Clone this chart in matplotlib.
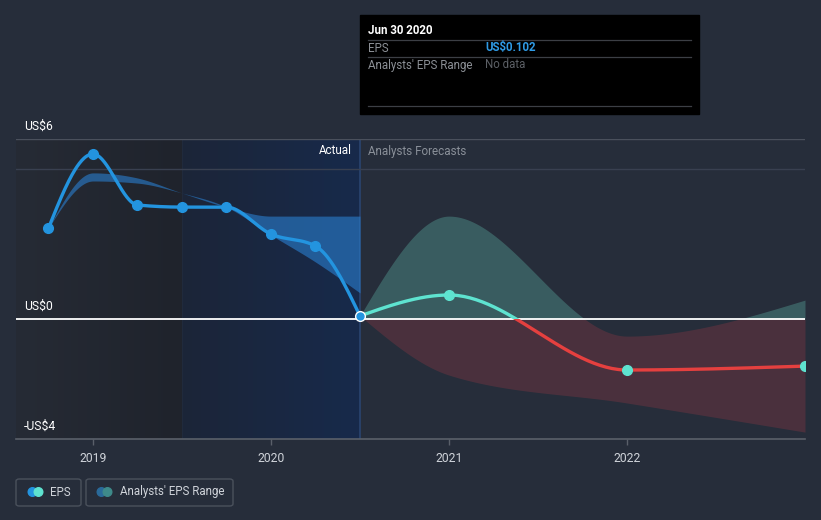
import numpy as np
import matplotlib
matplotlib.use('Agg')
from matplotlib import pyplot as plt
from matplotlib.patches import Rectangle, FancyBboxPatch, Circle
from matplotlib.lines import Line2D

plt.rcParams.update({'font.family': ['Roboto', 'DejaVu Sans'], 'font.size': 9})

# ---- data ----
eps_x = [2018.75, 2019.0, 2019.25, 2019.5, 2019.75, 2020.0, 2020.25, 2020.5]
eps_y = [3.03, 5.5, 3.8, 3.73, 3.73, 2.83, 2.43, 0.102]

past_band_x = [2018.75, 2019.0, 2019.25, 2019.5, 2019.75, 2020.0, 2020.25, 2020.5]
past_band_hi = [3.03, 4.87, 4.7, 4.2, 3.73, 3.43, 3.43, 3.43]
past_band_lo = [3.03, 4.6, 4.53, 4.2, 3.73, 2.8, 1.9, 0.87]

fc_x = [2020.5, 2021.0, 2022.0, 2023.0]
fc_y = [0.102, 0.8, -1.7, -1.57]
fc_hi = [0.102, 3.43, -0.57, 0.63]
fc_lo = [0.102, -1.87, -2.8, -3.77]

year_ticks = [2019, 2020, 2021, 2022]
y_labels = {6: 'US$6', 0: 'US$0', -4: '-US$4'}

BG = '#262d3a'
BLUE = '#2394df'
CYAN = '#5ee3d0'
RED = '#e5403f'


def monotone(xs, ys, n=60):
    # d3 curveMonotoneX style interpolation, for drawing only
    xs = np.asarray(xs, float)
    ys = np.asarray(ys, float)
    h = np.diff(xs)
    s = np.diff(ys) / h
    m = np.zeros(len(xs))
    for k in range(1, len(xs) - 1):
        p = (s[k - 1] * h[k] + s[k] * h[k - 1]) / (h[k - 1] + h[k])
        m[k] = (np.sign(s[k - 1]) + np.sign(s[k])) * min(abs(s[k - 1]), abs(s[k]), 0.5 * abs(p))
    m[0] = (3 * s[0] - m[1]) / 2 if len(xs) > 2 else s[0]
    m[-1] = (3 * s[-1] - m[-2]) / 2 if len(xs) > 2 else s[-1]
    outx, outy = [], []
    for k in range(len(xs) - 1):
        t = np.linspace(0, 1, n)
        h00 = 2 * t**3 - 3 * t**2 + 1
        h10 = t**3 - 2 * t**2 + t
        h01 = -2 * t**3 + 3 * t**2
        h11 = t**3 - t**2
        yy = h00 * ys[k] + h10 * h[k] * m[k] + h01 * ys[k + 1] + h11 * h[k] * m[k + 1]
        outx.extend(xs[k] + t * h[k])
        outy.extend(yy)
    return np.array(outx), np.array(outy)


W, H = 821, 520
fig = plt.figure(figsize=(W / 100, H / 100), dpi=100, facecolor=BG)
x0, x1, ytop, ybot = 16, 805, 139, 439
ax = fig.add_axes([x0 / W, (H - ybot) / H, (x1 - x0) / W, (ybot - ytop) / H])
ax.set_facecolor(BG)
xmin, xmax = 2019 - 77 / 178, 2023.0
ax.set_xlim(xmin, xmax)
ax.set_ylim(-4, 6)

# background shading for history
grad = np.linspace(0, 1, 256).reshape(1, -1)
c_a = np.array([0x26, 0x2b, 0x35]) / 255
c_b = np.array([0x1f, 0x23, 0x2c]) / 255
img = c_a + (c_b - c_a) * grad[..., None]
ax.imshow(img, extent=[xmin, 2019.5, -4, 6], aspect='auto', zorder=0)
c_a = np.array([0x1c, 0x25, 0x38]) / 255
c_b = np.array([0x17, 0x2a, 0x4b]) / 255
img = c_a + (c_b - c_a) * grad[..., None]
ax.imshow(img, extent=[2019.5, 2020.5, -4, 6], aspect='auto', zorder=0)
ax.axvline(2019.5, color='#202a3c', lw=0.8, zorder=1)
ax.axvline(2020.5, color='#2a4470', lw=1.2, zorder=1)

# gridlines
ax.axhline(6, color='#4a505c', lw=1, zorder=1)
ax.axhline(5, color='#394050', lw=1, zorder=1)

# past range band
bx, bhi = monotone(past_band_x, past_band_hi)
_, blo = monotone(past_band_x, past_band_lo)
ax.fill_between(bx, blo, bhi, color='#2a7fd0', alpha=0.6, lw=0, zorder=2)

# forecast band
fx, fhi = monotone(fc_x, fc_hi)
_, flo = monotone(fc_x, fc_lo)
ax.fill_between(fx, np.maximum(flo, 0), np.maximum(fhi, 0), color='#4a8480', alpha=0.55, lw=0, zorder=2)
ax.fill_between(fx, np.minimum(flo, 0), np.minimum(fhi, 0), color='#683440', alpha=0.55, lw=0, zorder=2)

# zero line
ax.axhline(0, color='white', lw=1.3, zorder=3)

# EPS history line
ex, ey = monotone(eps_x, eps_y)
ax.plot(ex, ey, color=BLUE, lw=2.4, zorder=4, solid_capstyle='round')
ax.plot(eps_x[:-1], eps_y[:-1], 'o', color=BLUE, ms=7, zorder=5)

# forecast line, cyan above zero, red below
gx, gy = monotone(fc_x, fc_y)
l1, = ax.plot(gx, gy, color=CYAN, lw=2.4, zorder=4)
l1.set_clip_path(Rectangle((xmin, 0), xmax - xmin, 10, transform=ax.transData))
l2, = ax.plot(gx, gy, color=RED, lw=2.4, zorder=4)
l2.set_clip_path(Rectangle((xmin, -10), xmax - xmin, 10, transform=ax.transData))
ax.plot(fc_x[1:], fc_y[1:], 'o', color=CYAN, ms=7, zorder=5)
ax.plot(eps_x[-1:], eps_y[-1:], 'o', color=BLUE, ms=7, mec='white', mew=1, zorder=6)

# y labels
for v, s in y_labels.items():
    ax.text(xmin + 8 / 178, v + 0.22, s, color='white', fontsize=8.7, va='bottom', ha='left', zorder=6)

ax.text(2020.5 - 8 / 178, 5.6, 'Actual', color='white', fontsize=8.4, ha='right', va='center', zorder=6)
ax.text(2020.5 + 8 / 178, 5.6, 'Analysts Forecasts', color='#8a9099', fontsize=8.4, ha='left', va='center', zorder=6)

# x axis
for sp in ['top', 'right', 'left']:
    ax.spines[sp].set_visible(False)
ax.spines['bottom'].set_color('#5a606a')
ax.spines['bottom'].set_linewidth(1.2)
ax.set_yticks([])
ax.set_xticks(year_ticks)
ax.set_xticklabels([str(y) for y in year_ticks])
ax.tick_params(axis='x', colors='#5a606a', length=4, width=1, labelcolor='#d0d4da', labelsize=8.7, pad=5)


# tooltip box (figure pixel coords)
def fx_(px):
    return px / W


def fy_(py):
    return 1 - py / H


fig.add_artist(Rectangle((fx_(360), fy_(114)), (699 - 360) / W, 99 / H, transform=fig.transFigure,
                         color='black', zorder=10))
for yy in [40, 57, 106]:
    fig.add_artist(Line2D([fx_(368), fx_(691)], [fy_(yy), fy_(yy)], transform=fig.transFigure,
                          color='#3c3f45', lw=0.9, zorder=11))
fig.text(fx_(368), fy_(31), 'Jun 30 2020', color='white', fontsize=8.3, fontweight='bold', va='center', zorder=12)
fig.text(fx_(368), fy_(48), 'EPS', color='#8c9096', fontsize=8.3, va='center', zorder=12)
fig.text(fx_(485), fy_(48), 'US$0.102', color='#2f9be6', fontsize=8.3, fontweight='bold', va='center', zorder=12)
fig.text(fx_(368), fy_(65), "Analysts' EPS Range", color='#8c9096', fontsize=8.3, va='center', zorder=12)
fig.text(fx_(485), fy_(65), 'No data', color='#5c6066', fontsize=8.3, va='center', zorder=12)

# legend boxes
for bx0, bx1 in [(16, 81), (86, 233)]:
    fig.add_artist(FancyBboxPatch((fx_(bx0), fy_(506)), (bx1 - bx0) / W, 27 / H,
                                  boxstyle='round,pad=0,rounding_size=0.004', transform=fig.transFigure,
                                  fc='none', ec='#4a515c', lw=1, zorder=10))
r = 4.3
for cx, col in [(32.5, BLUE), (38.5, CYAN), (101.5, '#2a6a9a'), (107.5, '#3e8a8a')]:
    fig.add_artist(Circle((cx, H - 492), r, transform=None, color=col, zorder=11))
fig.text(fx_(50), fy_(492), 'EPS', color='#d0d4da', fontsize=8.3, va='center', zorder=12)
fig.text(fx_(120), fy_(492), "Analysts' EPS Range", color='#d0d4da', fontsize=8.3, va='center', zorder=12)

fig.savefig('out.png', dpi=100, facecolor=BG)
